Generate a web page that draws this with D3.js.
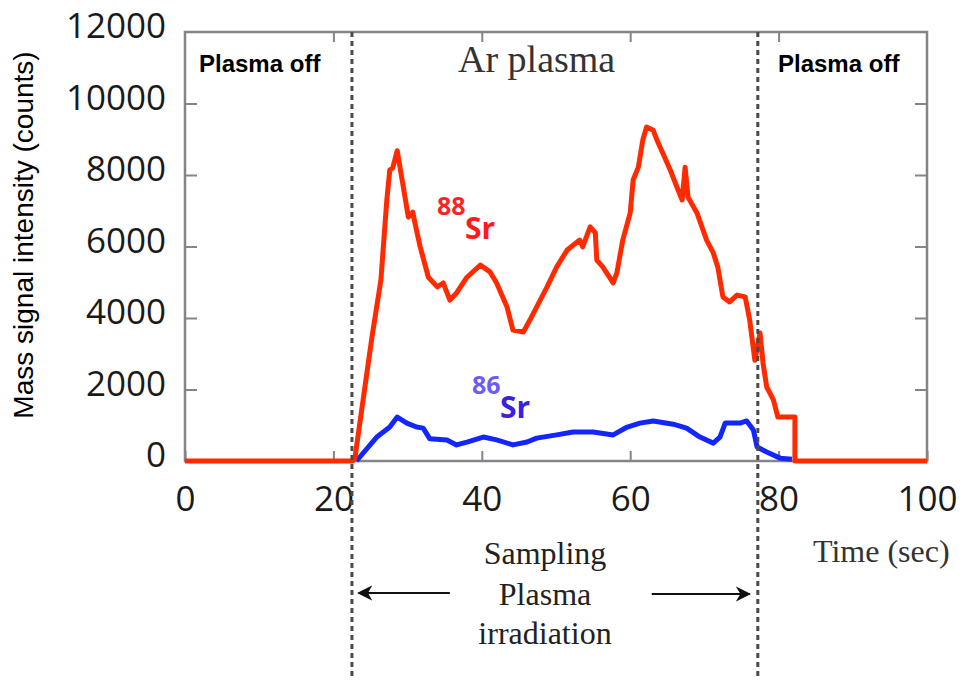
<!DOCTYPE html>
<html>
<head>
<meta charset="utf-8">
<script src="https://cdn.jsdelivr.net/npm/d3@7.9.0/dist/d3.min.js"></script>
<style>
  html, body { margin: 0; padding: 0; background: #fff; }
  svg { display: block; }
</style>
</head>
<body>
<svg id="chart" width="963" height="680"></svg>
<script>
// ---------- Data ----------
// 88Sr trace (time in sec, counts)
const sr88Time = [0, 22.6, 22.9, 25.2, 26.4, 27.2, 27.6, 28.0, 28.6, 29.2, 30.1, 30.7, 31.0, 31.7, 32.8,
  34.0, 34.8, 35.7, 36.6, 38.0, 39.8, 41.1, 42.0, 43.4, 44.2, 45.6, 46.5, 47.4, 48.8, 50.1, 51.5,
  53.2, 53.6, 54.6, 55.3, 55.5, 56.3, 57.7, 58.2, 59.0, 60.0, 60.4, 61.1, 61.7, 62.2, 63.1, 63.6,
  64.4, 65.4, 66.3, 67.0, 67.4, 67.8, 69.0, 70.3, 71.2, 71.8, 72.5, 73.4, 74.4, 75.5, 76.1, 76.8,
  77.5, 77.9, 78.4, 79.3, 79.9, 82.2, 82.2, 100];
const sr88Counts = [0, 0, 80, 3470, 5060, 7300, 8140, 8200, 8680, 7940, 6820, 6960, 6650, 5990, 5140,
  4870, 4980, 4500, 4700, 5140, 5480, 5290, 4980, 4310, 3660, 3610, 3950, 4310, 4870, 5430, 5900,
  6180, 5990, 6550, 6380, 5620, 5430, 4980, 5260, 6180, 6940, 7860, 8220, 8980, 9340, 9250, 8980,
  8610, 8140, 7660, 7300, 8220, 7380, 6940, 6180, 5820, 5430, 4590, 4450, 4640, 4590, 3950, 2820,
  3580, 2740, 2070, 1710, 1230, 1230, 0, 0];

// 86Sr trace
const sr86Time = [23.1, 25.9, 27.6, 28.6, 29.9, 31.2, 32.1, 33.0, 35.3, 36.6, 38.0, 40.2, 42.0, 44.2,
  46.1, 47.4, 50.1, 52.3, 55.0, 57.7, 59.6, 61.3, 63.1, 65.8, 67.6, 69.4, 71.2, 72.1, 72.8, 74.8,
  75.7, 76.6, 77.1, 78.4, 80.2, 81.8];
const sr86Counts = [0, 680, 950, 1230, 1060, 950, 920, 620, 590, 450, 530, 670, 590, 450,
  530, 640, 730, 810, 810, 730, 950, 1060, 1120, 1030, 920, 670, 500, 670, 1060, 1060,
  1120, 870, 390, 250, 80, 50];

const xTicks = [0, 20, 40, 60, 80, 100];
const yTicks = [0, 2000, 4000, 6000, 8000, 10000, 12000];

// plasma on / off boundaries (sec)
const plasmaOn = 22.5;
const plasmaOff = 77.2;

// ---------- Scales ----------
const svg = d3.select("#chart");
const x = d3.scaleLinear().domain([0, 100]).range([185, 927]);
const y = d3.scaleLinear().domain([0, 12000]).range([461, 32]);

const frameColor = "#858585";
const tickFont = "'Open Sans', sans-serif";

// ---------- Axes (ticks point inward, box frame) ----------
const axisLeftG = svg.append("g").attr("transform", `translate(${x(0)},0)`)
  .call(d3.axisLeft(y).tickValues(yTicks).tickSize(-12).tickPadding(19).tickFormat(d3.format("d")));
const axisBottomG = svg.append("g").attr("transform", `translate(0,${y(0)})`)
  .call(d3.axisBottom(x).tickValues(xTicks).tickSize(-10).tickPadding(25));
const axisRightG = svg.append("g").attr("transform", `translate(${x(100)},0)`)
  .call(d3.axisRight(y).tickValues(yTicks.slice(1, -1)).tickSize(-12).tickFormat(""));
const axisTopG = svg.append("g").attr("transform", `translate(0,${y(12000)})`)
  .call(d3.axisTop(x).tickValues(xTicks.slice(1, -1)).tickSize(-10).tickFormat(""));

[axisLeftG, axisBottomG, axisRightG, axisTopG].forEach((g) => {
  g.selectAll(".domain").remove();
  g.selectAll(".tick line").attr("stroke", frameColor).attr("stroke-width", 2);
  g.selectAll(".tick text")
    .attr("fill", "#1a1a1a")
    .style("font-family", tickFont)
    .style("font-size", "35px");
});
axisLeftG.selectAll(".tick text").attr("dy", "0.17em");
axisLeftG.selectAll(".tick line").filter((d) => d === 12000 || d === 0).remove();

svg.append("rect")
  .attr("x", x(0)).attr("y", y(12000))
  .attr("width", x(100) - x(0)).attr("height", y(0) - y(12000))
  .attr("fill", "none").attr("stroke", frameColor).attr("stroke-width", 2.5);

// ---------- Traces ----------
const line = d3.line().x((d) => x(d[0])).y((d) => y(d[1]));

svg.append("path")
  .datum(sr86Time.map((t, i) => [t, sr86Counts[i]]))
  .attr("d", line)
  .attr("fill", "none")
  .attr("stroke", "#1426ff")
  .attr("stroke-width", 5)
  .attr("stroke-linejoin", "round");

svg.append("path")
  .datum(sr88Time.map((t, i) => [t, sr88Counts[i]]))
  .attr("d", line)
  .attr("fill", "none")
  .attr("stroke", "#ff2a00")
  .attr("stroke-width", 5)
  .attr("stroke-linejoin", "round");

// ---------- Plasma boundaries ----------
[plasmaOn, plasmaOff].forEach((t) => {
  svg.append("line")
    .attr("x1", x(t)).attr("x2", x(t))
    .attr("y1", y(12000)).attr("y2", 680)
    .attr("stroke", "#4a4a4a")
    .attr("stroke-width", 3)
    .attr("stroke-dasharray", "5,4");
});

// ---------- Arrows ----------
const defs = svg.append("defs");
defs.append("marker")
  .attr("id", "head")
  .attr("viewBox", "0 0 10 10")
  .attr("refX", 9).attr("refY", 5)
  .attr("markerWidth", 7).attr("markerHeight", 7)
  .attr("orient", "auto-start-reverse")
  .append("path")
  .attr("d", "M0,0 L10,5 L0,10 L3,5 Z")
  .attr("fill", "#111");

const arrowY = 593;
svg.append("line")
  .attr("x1", x(35.7)).attr("x2", x(23.4))
  .attr("y1", arrowY).attr("y2", arrowY)
  .attr("stroke", "#111").attr("stroke-width", 2.2)
  .attr("marker-end", "url(#head)");
svg.append("line")
  .attr("x1", x(62.9)).attr("x2", x(76.1))
  .attr("y1", arrowY + 1).attr("y2", arrowY + 1)
  .attr("stroke", "#111").attr("stroke-width", 2.2)
  .attr("marker-end", "url(#head)");

// ---------- Text ----------
const serif = "'Liberation Serif', 'Times New Roman', serif";
const sans = "'Liberation Sans', Arial, sans-serif";

svg.append("text")
  .attr("transform", "translate(33,235) rotate(-90)")
  .attr("text-anchor", "middle")
  .style("font-family", sans)
  .style("font-size", "28px")
  .attr("fill", "#000")
  .text("Mass signal intensity (counts)");

svg.append("text")
  .attr("x", 199).attr("y", 72)
  .style("font-family", sans).style("font-size", "24px").style("font-weight", "bold")
  .text("Plasma off");
svg.append("text")
  .attr("x", 778).attr("y", 72)
  .style("font-family", sans).style("font-size", "24px").style("font-weight", "bold")
  .text("Plasma off");

svg.append("text")
  .attr("x", 458).attr("y", 72)
  .style("font-family", serif).style("font-size", "38px")
  .attr("fill", "#333")
  .text("Ar plasma");

const sampling = svg.append("text")
  .attr("text-anchor", "middle")
  .style("font-family", serif).style("font-size", "32px")
  .attr("fill", "#222");
[["Sampling", 564], ["Plasma", 605], ["irradiation", 644]].forEach(([s, yy]) => {
  sampling.append("tspan").attr("x", 545).attr("y", yy).text(s);
});

svg.append("text")
  .attr("x", 813).attr("y", 562)
  .style("font-family", serif).style("font-size", "32px")
  .attr("fill", "#333")
  .text("Time (sec)");

// isotope labels
function isotope(mass, px, py, massColor, srColor) {
  const g = svg.append("g").style("font-family", tickFont).style("font-weight", "bold");
  g.append("text").attr("x", px - 28).attr("y", py - 24)
    .style("font-size", "25px").attr("fill", massColor).text(mass);
  g.append("text").attr("x", px).attr("y", py)
    .style("font-size", "30px").attr("fill", srColor).text("Sr");
}
isotope("88", 465, 239, "#ff2222", "#ff1a1a");
isotope("86", 500, 418, "#6b5cf5", "#3a20e0");
</script>
</body>
</html>
